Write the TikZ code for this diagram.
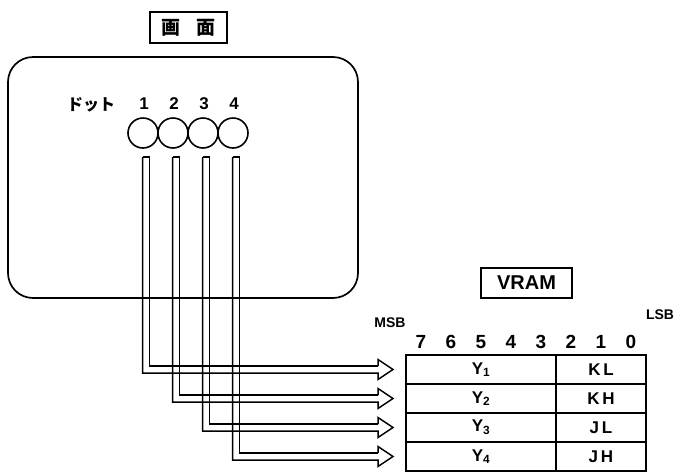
\documentclass[tikz,border=0pt]{standalone}
\usepackage{fontspec}
\setmainfont{Liberation Sans}
\newfontfamily\jpfont{Noto Sans CJK JP}
\usetikzlibrary{calc,positioning}

\begin{document}
\begin{tikzpicture}[x=1pt,y=-1pt,every node/.style={outer sep=0pt},
  cell/.style={draw,line width=1.6pt,minimum height=29pt,inner sep=0pt,
    font=\fontsize{17}{17}\selectfont\bfseries},
  titlebox/.style={draw,line width=2.2pt,inner sep=0pt,minimum height=30pt},
  pipe/.style={line width=1.5pt,line join=miter}]
  \useasboundingbox (0,0) rectangle (675,472);
  % screen
  \node[draw,line width=1.7pt,rounded corners=25pt,minimum width=350pt,
    minimum height=241pt] (scr) at (183,177.5) {};
  \node[titlebox,minimum width=77pt,minimum height=31pt,
    font=\jpfont\fontsize{19}{19}\selectfont\bfseries] (gamen) at (188.5,27.5) {画\hspace{0.8em}面};
  \node[font=\jpfont\fontsize{16}{16}\selectfont\bfseries] (dot) at (91,105) {ドット};
  \foreach \i/\x in {1/143,2/173,3/203,4/233} {
    \node[circle,draw,line width=1.6pt,minimum size=30pt,inner sep=0pt] (d\i) at (\x,133) {};
    \node[font=\fontsize{17}{17}\selectfont\bfseries] (n\i) at (\x+1,104) {\i};
  }
  % VRAM
  \node[titlebox,minimum width=91pt,font=\fontsize{20}{20}\selectfont\bfseries] (vram) at (526.5,283) {VRAM};
  \node[cell,minimum width=150pt] (y1) at (481,369.5) {Y\textsubscript{1}};
  \node[cell,minimum width=90pt,right=0pt of y1] (k1) {K\,L};
  \node[cell,minimum width=150pt,below=0pt of y1] (y2) {Y\textsubscript{2}};
  \node[cell,minimum width=90pt,right=0pt of y2] (k2) {K\,H};
  \node[cell,minimum width=150pt,below=0pt of y2] (y3) {Y\textsubscript{3}};
  \node[cell,minimum width=90pt,right=0pt of y3] (k3) {J\,L};
  \node[cell,minimum width=150pt,below=0pt of y3] (y4) {Y\textsubscript{4}};
  \node[cell,minimum width=90pt,right=0pt of y4] (k4) {J\,H};
  \foreach \b [count=\c] in {7,6,...,0}
    \node[font=\fontsize{19}{19}\selectfont\bfseries] (b\b) at ($(y1.north west)+(30*\c-15,-13)$) {\b};
  \node[font=\fontsize{14}{14}\selectfont\bfseries] (msb) at (390,323) {MSB};
  \node[font=\fontsize{14}{14}\selectfont\bfseries] (lsb) at (660,315) {LSB};
  % dot -> VRAM
  \foreach \i in {1,...,4} {
    \coordinate (p\i) at ($(d\i.south)+(3,9)$);
    \draw[pipe] ($(p\i)+(-3.5,0)$) -- ($(p\i)+(3.5,0)$) |- ($(y\i.west)+(-28,-3.5)$);
    \draw[pipe] ($(p\i)+(-3.5,0)$) |- ($(y\i.west)+(-28,3.5)$) -- ++(0,6.5)
      -- ($(y\i.west)+(-13,0)$) -- ($(y\i.west)+(-28,-10)$) -- ++(0,6.5);
  }
\end{tikzpicture}
\end{document}
